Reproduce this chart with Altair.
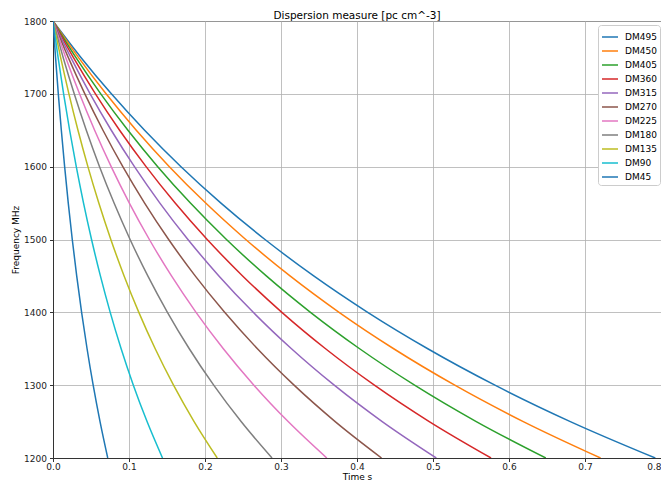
import altair as alt
import pandas as pd

# Frequencies (MHz) at which each curve's arrival time was read
freqs = [1800, 1750, 1700, 1650, 1600, 1550, 1500, 1450, 1400, 1350, 1300, 1250, 1200]

# Arrival times (s) read per dispersion-measure curve
dm495 = [0, 0.03675, 0.07679, 0.12052, 0.16841, 0.22101, 0.27897, 0.34302, 0.41406, 0.49313, 0.58150, 0.68069, 0.79253]
dm450 = [0, 0.03341, 0.06981, 0.10956, 0.15310, 0.20092, 0.25361, 0.31184, 0.37642, 0.44830, 0.52864, 0.61881, 0.72048]
dm405 = [0, 0.03007, 0.06283, 0.09860, 0.13779, 0.18083, 0.22825, 0.28066, 0.33878, 0.40347, 0.47578, 0.55693, 0.64843]
dm360 = [0, 0.02673, 0.05585, 0.08765, 0.12248, 0.16074, 0.20289, 0.24947, 0.30114, 0.35864, 0.42291, 0.49505, 0.57638]
dm315 = [0, 0.02339, 0.04887, 0.07669, 0.10717, 0.14064, 0.17753, 0.21829, 0.26349, 0.31381, 0.37005, 0.43317, 0.50434]
dm270 = [0, 0.02005, 0.04189, 0.06574, 0.09186, 0.12055, 0.15217, 0.18710, 0.22585, 0.26898, 0.31718, 0.37129, 0.43229]
dm225 = [0, 0.01671, 0.03491, 0.05478, 0.07655, 0.10046, 0.12681, 0.15592, 0.18821, 0.22415, 0.26432, 0.30941, 0.36024]
dm180 = [0, 0.01336, 0.02792, 0.04382, 0.06124, 0.08037, 0.10144, 0.12474, 0.15057, 0.17932, 0.21146, 0.24752, 0.28819]
dm135 = [0, 0.01002, 0.02094, 0.03287, 0.04593, 0.06028, 0.07608, 0.09355, 0.11293, 0.13449, 0.15859, 0.18564, 0.21614]
dm90 = [0, 0.00668, 0.01396, 0.02191, 0.03062, 0.04018, 0.05072, 0.06237, 0.07528, 0.08966, 0.10573, 0.12376, 0.14410]
dm45 = [0, 0.00334, 0.00698, 0.01096, 0.01531, 0.02009, 0.02536, 0.03118, 0.03764, 0.04483, 0.05286, 0.06188, 0.07205]

series_names = ["DM495", "DM450", "DM405", "DM360", "DM315", "DM270",
                "DM225", "DM180", "DM135", "DM90", "DM45"]
series_values = [dm495, dm450, dm405, dm360, dm315, dm270,
                 dm225, dm180, dm135, dm90, dm45]
colors = ["#1f77b4", "#ff7f0e", "#2ca02c", "#d62728", "#9467bd", "#8c564b",
          "#e377c2", "#7f7f7f", "#bcbd22", "#17becf", "#1f77b4"]

x_ticks = [0.0, 0.1, 0.2, 0.3, 0.4, 0.5, 0.6, 0.7, 0.8]
y_ticks = [1200, 1300, 1400, 1500, 1600, 1700, 1800]

rows = []
for name, vals in zip(series_names, series_values):
    for f, t in zip(freqs, vals):
        rows.append({"series": name, "time": t, "freq": f})
df = pd.DataFrame(rows)

FONT = "DejaVu Sans"

chart = alt.Chart(df).mark_line(strokeWidth=1.5, interpolate="monotone", clip=True).encode(
    x=alt.X("time:Q", title="Time s",
            scale=alt.Scale(domain=[0, 0.8], nice=False, zero=False),
            axis=alt.Axis(values=x_ticks, format=".1f", titlePadding=1, labelPadding=1,
                          labelFlush=False,
                          labelAlign=alt.condition("datum.value >= 0.8", alt.value("right"), alt.value("center")))),
    y=alt.Y("freq:Q", title="Frequency MHz",
            scale=alt.Scale(domain=[1200, 1800], nice=False, zero=False),
            axis=alt.Axis(values=y_ticks, format="d", titlePadding=3, labelPadding=3)),
    color=alt.Color("series:N", sort=series_names,
                    scale=alt.Scale(domain=series_names, range=colors),
                    legend=alt.Legend(title=None, orient="none", legendX=545, legendY=4,
                                      symbolType="stroke", symbolSize=256,
                                      symbolStrokeWidth=1.5, labelFontSize=9,
                                      labelFont=FONT, rowPadding=-3,
                                      padding=3, strokeColor="#cccccc",
                                      fillColor="white", cornerRadius=3,
                                      labelOffset=6)),
    detail="series:N",
    order=alt.Order("time:Q"),
).properties(
    width=608, height=437,
    title=alt.TitleParams("Dispersion measure [pc cm^-3]", fontSize=10.5,
                          fontWeight="normal", font=FONT, color="black",
                          offset=2, dy=6, anchor="middle", frame="group"),
    autosize=alt.AutoSizeParams(type="none"),
    padding={"left": 45, "top": 13, "right": 0, "bottom": 25},
).configure_view(
    stroke="#333333", strokeWidth=1
).configure_axis(
    labelFont=FONT, titleFont=FONT, labelFontSize=9, titleFontSize=9,
    titleFontWeight="normal", labelColor="#222222", titleColor="black",
    grid=True, gridColor="#b0b0b0", gridWidth=0.8,
    domainColor="#333333", domainWidth=1, tickColor="#333333",
    tickSize=3.5, labelPadding=2,
)

chart.save("out.html", embed_options={"renderer": "svg", "actions": False})
